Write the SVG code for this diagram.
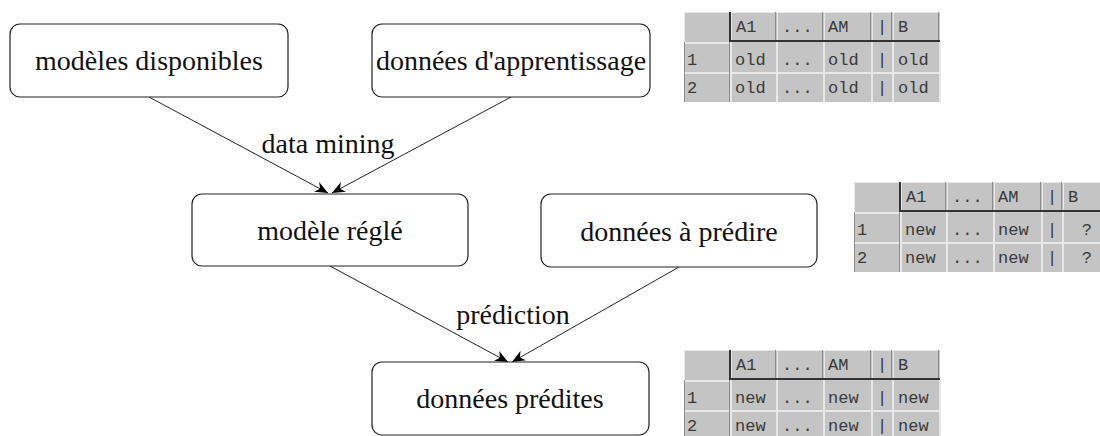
<svg xmlns="http://www.w3.org/2000/svg" xmlns:xlink="http://www.w3.org/1999/xlink" width="1100" height="436" viewBox="0 0 1100 436">
<style>
.box{fill:#fff;stroke:#222;stroke-width:1.2}
.lbl{font-family:"Liberation Serif","Times New Roman",serif;font-size:28px;fill:#111;text-anchor:middle}
.edge{stroke:#222;stroke-width:1;fill:none;marker-end:url(#ah)}
.t{font-family:"Liberation Mono","Courier New",monospace;font-size:17px;fill:#3a3a3a}
.dk{stroke:#333;fill:none}
.lt{stroke:#e8e8e8;fill:none}
.md{stroke:#8c8c8c;fill:none}
</style>
<defs>
<marker id="ah" viewBox="0 0 13 11" refX="13" refY="5.5" markerWidth="13" markerHeight="11" markerUnits="userSpaceOnUse" orient="auto">
<path d="M0,0 L13,5.5 L0,11 L4,5.5 z" fill="#000"/>
</marker>
<g id="grid">
<rect x="0" y="0" width="256" height="90" fill="#c4c4c4"/>
<path class="lt" stroke-width="1" d="M0,0.5 H256 M0.5,0 V30 M47.5,0 V30 M93.5,0 V30 M140.5,0 V30 M188.5,0 V30 M209.5,0 V30"/>
<path class="md" stroke-width="1" d="M45.5,0 V30 M91.5,0 V30 M138.5,0 V30 M186.5,0 V30 M207.5,0 V30 M254.5,0 V30"/>
<path class="lt" stroke-width="2" d="M0,31 H46 M0,61 H256 M47,30 V90 M93,30 V90 M140,30 V90 M188,30 V90 M209,30 V90 M256,30 V90"/>
<path class="md" stroke-width="1" d="M45.5,30 V90 M0.5,30 V90"/>
<path class="dk" stroke-width="2" d="M46,0 V30 M46,29 H256"/>
</g>
</defs>

<g id="tables">
<g id="table-old" transform="translate(684,12)">
<use xlink:href="#grid"/>
<text class="t" x="52" y="20">A1</text><text class="t" x="98" y="20">...</text><text class="t" x="144" y="20">AM</text><text class="t" x="193" y="20">|</text><text class="t" x="214" y="20">B</text>
<text class="t" x="3" y="53">1</text><text class="t" x="51" y="53">old</text><text class="t" x="98" y="53">...</text><text class="t" x="144" y="53">old</text><text class="t" x="193" y="53">|</text><text class="t" x="214" y="53">old</text>
<text class="t" x="3" y="81">2</text><text class="t" x="51" y="81">old</text><text class="t" x="98" y="81">...</text><text class="t" x="144" y="81">old</text><text class="t" x="193" y="81">|</text><text class="t" x="214" y="81">old</text>
</g>
<g id="table-topredict" transform="translate(854,182)">
<use xlink:href="#grid"/>
<text class="t" x="52" y="20">A1</text><text class="t" x="98" y="20">...</text><text class="t" x="144" y="20">AM</text><text class="t" x="193" y="20">|</text><text class="t" x="214" y="20">B</text>
<text class="t" x="3" y="53">1</text><text class="t" x="51" y="53">new</text><text class="t" x="98" y="53">...</text><text class="t" x="144" y="53">new</text><text class="t" x="193" y="53">|</text><text class="t" x="238" y="53" text-anchor="end">?</text>
<text class="t" x="3" y="81">2</text><text class="t" x="51" y="81">new</text><text class="t" x="98" y="81">...</text><text class="t" x="144" y="81">new</text><text class="t" x="193" y="81">|</text><text class="t" x="238" y="81" text-anchor="end">?</text>
</g>
<g id="table-predicted" transform="translate(684,350)">
<use xlink:href="#grid"/>
<text class="t" x="52" y="20">A1</text><text class="t" x="98" y="20">...</text><text class="t" x="144" y="20">AM</text><text class="t" x="193" y="20">|</text><text class="t" x="214" y="20">B</text>
<text class="t" x="3" y="53">1</text><text class="t" x="51" y="53">new</text><text class="t" x="98" y="53">...</text><text class="t" x="144" y="53">new</text><text class="t" x="193" y="53">|</text><text class="t" x="214" y="53">new</text>
<text class="t" x="3" y="81">2</text><text class="t" x="51" y="81">new</text><text class="t" x="98" y="81">...</text><text class="t" x="144" y="81">new</text><text class="t" x="193" y="81">|</text><text class="t" x="214" y="81">new</text>
</g>
</g>

<g id="connectors">
<line class="edge" x1="149" y1="97" x2="328" y2="193"/>
<line class="edge" x1="511" y1="97" x2="332" y2="193"/>
<line class="edge" x1="330" y1="266" x2="508" y2="362"/>
<line class="edge" x1="679" y1="267" x2="512" y2="362"/>
<text class="lbl" x="328" y="153">data mining</text>
<text class="lbl" x="513" y="324">prédiction</text>
</g>

<g id="n-modeles">
<rect class="box" x="10" y="24" width="278" height="73" rx="10"/>
<text class="lbl" x="149" y="70">modèles disponibles</text>
</g>
<g id="n-apprentissage">
<rect class="box" x="372" y="24" width="278" height="73" rx="10"/>
<text class="lbl" x="511" y="70">données d'apprentissage</text>
</g>
<g id="n-regle">
<rect class="box" x="192" y="194" width="276" height="72" rx="10"/>
<text class="lbl" x="330" y="240">modèle réglé</text>
</g>
<g id="n-apredire">
<rect class="box" x="541" y="194" width="276" height="73" rx="10"/>
<text class="lbl" x="679" y="241">données à prédire</text>
</g>
<g id="n-predites">
<rect class="box" x="372" y="362" width="277" height="73" rx="10"/>
<text class="lbl" x="510" y="408">données prédites</text>
</g>
</svg>
